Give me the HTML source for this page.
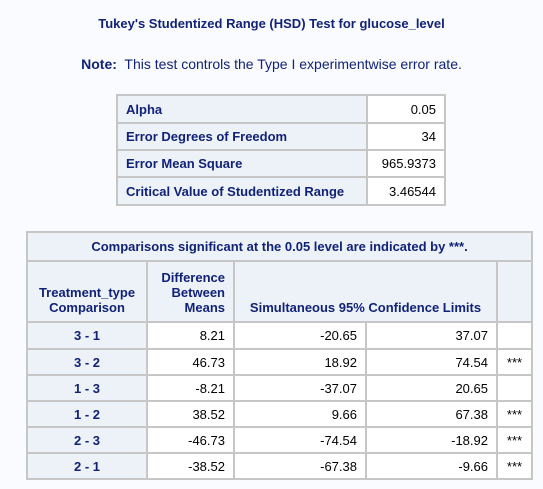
<!DOCTYPE html>
<html><head><meta charset="utf-8"><style>
body{margin:0;width:543px;height:489px;background:#fafbfe;font-family:"Liberation Sans",Arial,sans-serif;color:#112277;position:relative;overflow:hidden}
.t{position:absolute;left:0;width:543px;text-align:center;font-size:13px}
table{position:absolute;border-collapse:collapse;font-size:13px;table-layout:fixed}
td,th{border:2px solid #c6c6c6;padding:0 8px;height:22px;box-sizing:border-box}
th{background:#edf2f9;font-weight:bold;color:#112277}
td{background:#fff;color:#000;text-align:right}
.l{text-align:left}.c{text-align:center}
</style></head><body>
<div class="t" style="top:16px;font-weight:bold">Tukey's Studentized Range (HSD) Test for glucose_level</div>
<div class="t" style="top:56px;font-size:14px"><b>Note:</b>&nbsp; This test controls the Type I experimentwise error rate.</div>
<table style="left:116px;top:94px;width:328px">
<colgroup><col style="width:250px"><col style="width:78px"></colgroup>
<tr style="height:28px"><th class="l">Alpha</th><td>0.05</td></tr>
<tr style="height:27px"><th class="l">Error Degrees of Freedom</th><td>34</td></tr>
<tr style="height:27px"><th class="l">Error Mean Square</th><td>965.9373</td></tr>
<tr style="height:28px"><th class="l">Critical Value of Studentized Range</th><td>3.46544</td></tr>
</table>
<table style="left:26px;top:231px;width:505px">
<colgroup><col style="width:120px"><col style="width:87px"><col style="width:132px"><col style="width:131px"><col style="width:35px"></colgroup>
<tr style="height:29px"><th colspan="5" class="c">Comparisons significant at the 0.05 level are indicated by ***.</th></tr>
<tr style="height:61px"><th class="c" style="vertical-align:bottom;padding-bottom:6px">Treatment_type<br>Comparison</th><th style="text-align:right;vertical-align:bottom;padding-bottom:6px">Difference<br>Between<br>Means</th><th colspan="2" class="c" style="vertical-align:bottom;padding-bottom:6px">Simultaneous 95% Confidence Limits</th><th></th></tr>
<tr style="height:27px"><th class="c">3 - 1</th><td>8.21</td><td>-20.65</td><td>37.07</td><td class="c"></td></tr>
<tr style="height:26px"><th class="c">3 - 2</th><td>46.73</td><td>18.92</td><td>74.54</td><td class="c">***</td></tr>
<tr style="height:26px"><th class="c">1 - 3</th><td>-8.21</td><td>-37.07</td><td>20.65</td><td class="c"></td></tr>
<tr style="height:26px"><th class="c">1 - 2</th><td>38.52</td><td>9.66</td><td>67.38</td><td class="c">***</td></tr>
<tr style="height:26px"><th class="c">2 - 3</th><td>-46.73</td><td>-74.54</td><td>-18.92</td><td class="c">***</td></tr>
<tr style="height:26px"><th class="c">2 - 1</th><td>-38.52</td><td>-67.38</td><td>-9.66</td><td class="c">***</td></tr>
</table>
</body></html>
